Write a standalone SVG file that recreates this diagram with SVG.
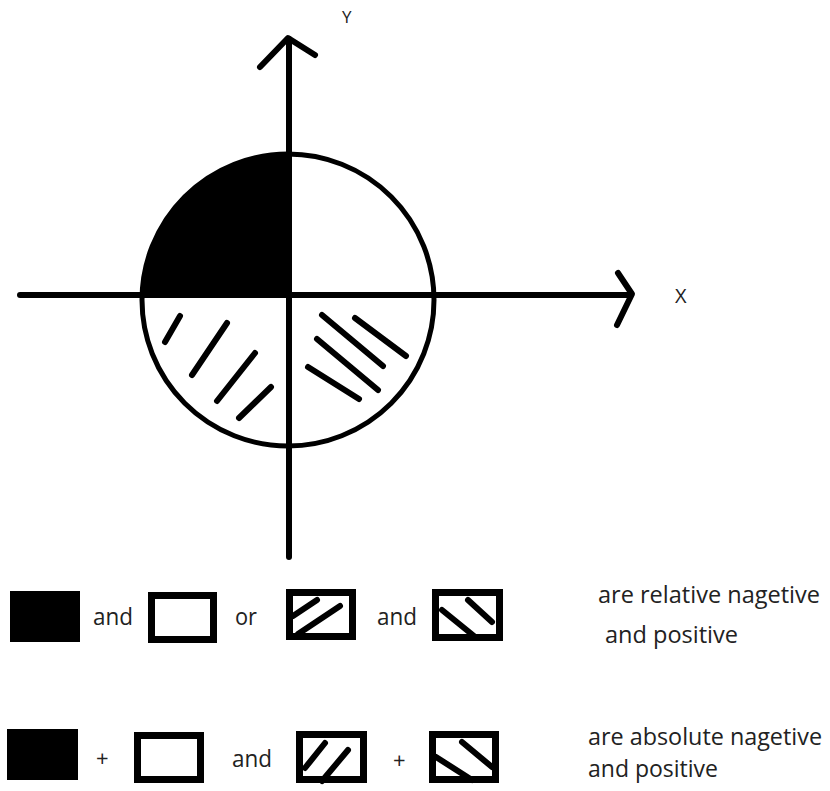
<svg xmlns="http://www.w3.org/2000/svg" width="830" height="791" viewBox="0 0 830 791">
<style>
.ax{stroke:#000;stroke-width:6;fill:none;stroke-linecap:round;stroke-linejoin:round}
.h{stroke:#000;stroke-width:6;stroke-linecap:round;fill:none}
.box{fill:#fff;stroke:#000;stroke-width:7}
.t{font-family:"Open Sans","Liberation Sans",sans-serif;fill:#222}
</style>
<rect width="830" height="791" fill="#fff"/>
<g id="circle">
<path d="M289,295 L142,295 A146,146 0 0 1 289,154 Z" fill="#000"/>
<circle cx="288" cy="300" r="146" fill="none" stroke="#000" stroke-width="5"/>
<path class="h" d="M180,316 L165,342 M227,323 L192,375 M255,353 L217,401 M271,387 L239,418"/>
<path class="h" d="M322,315 L383,366 M355,318 L406,356 M317,339 L378,390 M308,367 L359,399"/>
</g>
<g id="axes">
<line class="ax" x1="20" y1="295" x2="630" y2="295"/>
<polyline class="ax" points="618,273 632,294 617,325"/>
<line class="ax" x1="289" y1="39" x2="289" y2="557"/>
<polyline class="ax" points="260,67 288,38 315,55"/>
<text class="t" x="342" y="23" font-size="17">Y</text>
<text class="t" x="675" y="303" font-size="20">X</text>
</g>
<g id="legend1">
<rect x="10" y="591" width="70" height="51" fill="#000"/>
<text class="t" x="93" y="625" font-size="24" textLength="40" lengthAdjust="spacingAndGlyphs">and</text>
<rect class="box" x="151.5" y="595.5" width="62" height="44"/>
<text class="t" x="235" y="625" font-size="24" textLength="22" lengthAdjust="spacingAndGlyphs">or</text>
<rect class="box" x="289.5" y="592.5" width="63" height="44"/>
<path class="h" d="M293,616 L317,600 M298,634 L340,606"/>
<text class="t" x="377" y="625" font-size="24" textLength="40" lengthAdjust="spacingAndGlyphs">and</text>
<rect class="box" x="435.5" y="592.5" width="64" height="45"/>
<path class="h" d="M442,610 L474,636 M468,600 L492,622"/>
<text class="t" x="598" y="603" font-size="23" textLength="222" lengthAdjust="spacingAndGlyphs">are relative nagetive</text>
<text class="t" x="605" y="643" font-size="23" textLength="133" lengthAdjust="spacingAndGlyphs">and positive</text>
</g>
<g id="legend2">
<rect x="7" y="729" width="71" height="51" fill="#000"/>
<text class="t" x="96" y="766" font-size="22">+</text>
<rect class="box" x="137.5" y="735.5" width="63" height="44"/>
<text class="t" x="232" y="767" font-size="24" textLength="40" lengthAdjust="spacingAndGlyphs">and</text>
<rect class="box" x="299.5" y="734.5" width="64" height="45"/>
<path class="h" d="M305,768 L325,743 M322,781 L348,750"/>
<text class="t" x="393" y="768" font-size="22">+</text>
<rect class="box" x="432.5" y="734.5" width="63" height="45"/>
<path class="h" d="M436,757 L472,780 M462,742 L492,767"/>
<text class="t" x="588" y="745" font-size="23" textLength="234" lengthAdjust="spacingAndGlyphs">are absolute nagetive</text>
<text class="t" x="588" y="777" font-size="23" textLength="130" lengthAdjust="spacingAndGlyphs">and positive</text>
</g>
</svg>
